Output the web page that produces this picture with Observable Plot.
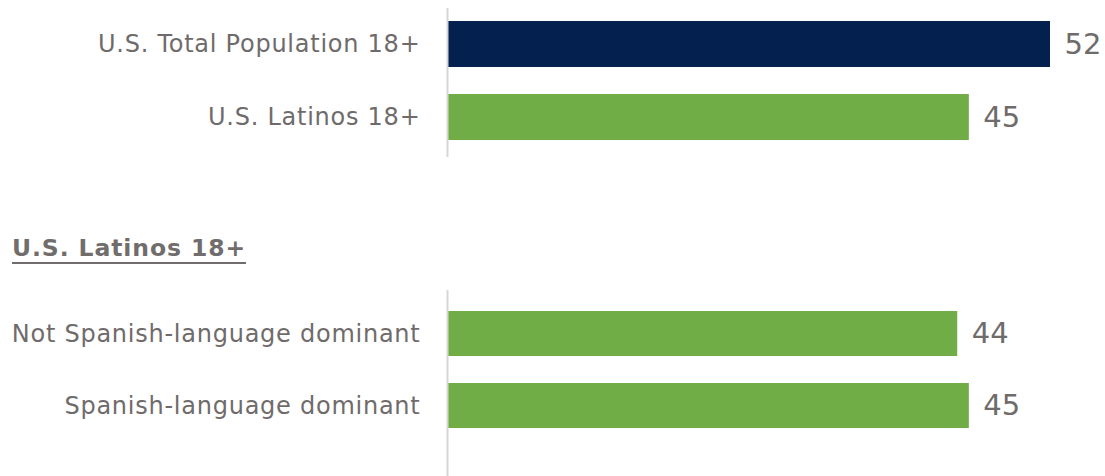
<!DOCTYPE html>
<html>
<head>
<meta charset="utf-8">
<script src="https://cdn.jsdelivr.net/npm/d3@7"></script>
<script src="https://cdn.jsdelivr.net/npm/@observablehq/plot@0.6"></script>
<style>
  html, body { margin: 0; padding: 0; background: #fff; }
  #chart { position: relative; width: 1105px; height: 476px; overflow: hidden; font-family: "DejaVu Sans", sans-serif; }
  #top { position: absolute; left: 0; top: 0; }
  #bottom { position: absolute; left: 0; top: 290px; }
  #heading { position: absolute; left: 12px; top: 233px; font-family: "DejaVu Sans", sans-serif; font-size: 23.5px; line-height: 30px; font-weight: 700; letter-spacing: 0.9px; color: #716d6d; text-decoration: underline; text-decoration-thickness: 2px; text-underline-offset: 6px; white-space: nowrap; }
  #chart svg g[aria-label="y-axis tick label"] text { letter-spacing: 0.75px; }
</style>
</head>
<body>
<div id="chart">
  <div id="top"></div>
  <div id="heading"></div>
  <div id="bottom"></div>
</div>
<script>
const topCategories = ["U.S. Total Population 18+", "U.S. Latinos 18+"];
const topValues = [52, 45];
const groupHeading = "U.S. Latinos 18+";
const bottomCategories = ["Not Spanish-language dominant", "Spanish-language dominant"];
const bottomValues = [44, 45];
const xMax = 52;

const NAVY = "#04204e";
const GREEN = "#70ad47";
const TEXT = "#6f6b6b";
const AXIS = "#d6d6d6";

function makePlot(categories, values, colors, opts) {
  const data = categories.map((c, i) => ({category: c, value: values[i], color: colors[i]}));
  return Plot.plot({
    width: 1105,
    height: opts.height,
    marginLeft: 447,
    marginRight: 55,
    marginTop: opts.marginTop,
    marginBottom: opts.marginBottom,
    style: {fontFamily: "'DejaVu Sans', sans-serif", overflow: "visible", background: "transparent"},
    x: {domain: [0, xMax], axis: null},
    y: {domain: categories, paddingInner: 0.37, paddingOuter: opts.paddingOuter, align: opts.align, axis: null},
    marks: [
      Plot.barX(data, {y: "category", x: "value", fill: d => d.color}),
      Plot.axisY({tickSize: 0, tickPadding: 27, fontSize: 24, fill: TEXT, label: null}),
      Plot.text(data, {y: "category", x: "value", text: d => String(d.value), dx: 14, textAnchor: "start", fontSize: 29, fill: TEXT}),
      Plot.ruleX([0], {stroke: AXIS, strokeWidth: 2})
    ]
  });
}

document.getElementById("top").appendChild(
  makePlot(topCategories, topValues, [NAVY, GREEN], {height: 165, marginTop: 8, marginBottom: 8, paddingOuter: 0.205, align: 0.42})
);
document.getElementById("heading").textContent = groupHeading;
document.getElementById("bottom").appendChild(
  makePlot(bottomCategories, bottomValues, [GREEN, GREEN], {height: 186, marginTop: 0, marginBottom: 0, paddingOuter: 0.459, align: 0.3})
);
</script>
</body>
</html>
